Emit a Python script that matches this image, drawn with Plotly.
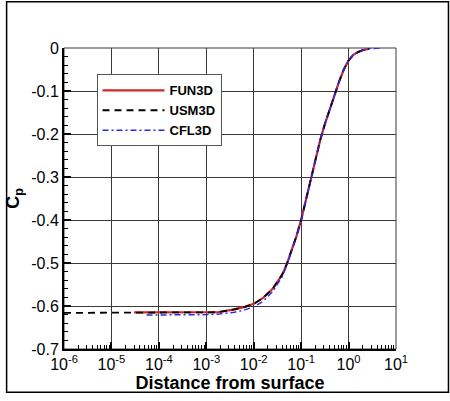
import numpy as np
import plotly.graph_objects as go

# distance from surface (log axis) and Cp
usm3d_dist = [1e-6, 1e-5, 3e-5, 1e-4, 3e-4, 1e-3, 1.75e-3, 3.9e-3, 6.5e-3, 0.01, 0.0158, 0.0251, 0.0398, 0.0501,
              0.0631, 0.0794, 0.1, 0.126, 0.158, 0.2, 0.251, 0.316, 0.398, 0.501, 0.631, 0.794, 1.0, 1.26,
              1.58, 2.0, 2.7]
usm3d_cp = [-0.616, -0.616, -0.6155, -0.615, -0.615, -0.615, -0.6145, -0.608, -0.602, -0.595, -0.581, -0.560,
            -0.527, -0.502, -0.470, -0.438, -0.400, -0.355, -0.305, -0.258, -0.215, -0.177, -0.143, -0.110,
            -0.078, -0.050, -0.029, -0.016, -0.0095, -0.005, -0.0015]

fun3d_dist = [3e-5, 1e-4, 3e-4, 1e-3, 1.75e-3, 3.9e-3, 6.5e-3, 0.01, 0.0158, 0.0251, 0.0398, 0.0501,
              0.0631, 0.0794, 0.1, 0.126, 0.158, 0.2, 0.251, 0.316, 0.398, 0.501, 0.631, 0.794, 1.0, 1.26,
              1.58, 2.0, 2.7]
fun3d_cp = [-0.6148, -0.615, -0.615, -0.615, -0.6145, -0.608, -0.602, -0.595, -0.581, -0.560,
            -0.527, -0.502, -0.470, -0.438, -0.400, -0.355, -0.305, -0.258, -0.215, -0.177, -0.143, -0.110,
            -0.078, -0.050, -0.029, -0.016, -0.0095, -0.005, -0.0015]

cfl3d_dist = [5.5e-5, 1e-4, 3e-4, 1e-3, 1.75e-3, 3.9e-3, 6.5e-3, 0.01, 0.0158, 0.0251, 0.0398, 0.0501,
              0.0631, 0.0794, 0.1, 0.126, 0.158, 0.2, 0.251, 0.316, 0.398, 0.501, 0.631, 0.794, 1.0, 1.26,
              1.58, 2.0, 2.7, 5.1]
cfl3d_cp = [-0.621, -0.621, -0.6205, -0.620, -0.619, -0.6145, -0.609, -0.602, -0.589, -0.566, -0.532, -0.505,
            -0.471, -0.439, -0.401, -0.355, -0.305, -0.258, -0.215, -0.177, -0.143, -0.110,
            -0.078, -0.050, -0.029, -0.016, -0.0095, -0.005, -0.0015, 0.0]

x_tickvals = [1e-6, 1e-5, 1e-4, 1e-3, 1e-2, 1e-1, 1e0, 1e1]
x_ticktext = ["10<sup>-6</sup>", "10<sup>-5</sup>", "10<sup>-4</sup>", "10<sup>-3</sup>",
              "10<sup>-2</sup>", "10<sup>-1</sup>", "10<sup>0</sup>", "10<sup>1</sup>"]
y_tickvals = [0, -0.1, -0.2, -0.3, -0.4, -0.5, -0.6, -0.7]
y_ticktext = ["0", "-0.1", "-0.2", "-0.3", "-0.4", "-0.5", "-0.6", "-0.7"]
light_grid = [1e-5, 1e-4, 1e-3]  # these verticals are drawn light grey

W, H = 450, 401
ML, MR, MT, MB = 59, 54, 48, 45
PW, PH = W - ML - MR, H - MT - MB
FONT = "Liberation Sans, Arial, sans-serif"

fig = go.Figure()
fig.add_trace(go.Scatter(x=fun3d_dist, y=fun3d_cp, mode="lines", name="FUN3D",
                         line=dict(color="#d02828", width=2.2)))
fig.add_trace(go.Scatter(x=usm3d_dist, y=usm3d_cp, mode="lines", name="USM3D",
                         line=dict(color="black", width=1.8, dash="7px,5px")))
fig.add_trace(go.Scatter(x=cfl3d_dist, y=cfl3d_cp, mode="lines", name="CFL3D",
                         line=dict(color="#2a2ae8", width=1.5, dash="6px,3px,2px,3px")))

minor_x = [k * 10.0 ** e for e in range(-6, 1) for k in range(2, 10)]

fig.update_xaxes(type="log", range=[-6, 1], tickvals=x_tickvals, ticktext=x_ticktext,
                 ticks="inside", ticklen=7, tickwidth=1.5, tickcolor="black",
                 minor=dict(tickvals=minor_x, ticks="inside", ticklen=4, tickwidth=1, tickcolor="black", showgrid=False),
                 showgrid=True, gridcolor="#3a3a3a", gridwidth=1,
                 showline=True, linecolor="black", linewidth=2, zeroline=False,
                 tickfont=dict(family=FONT, size=16, color="black"),
                 title=dict(text="<b>Distance from surface</b>", font=dict(family=FONT, size=18, color="black"),
                            standoff=3))
fig.update_yaxes(range=[-0.7, 0], tickvals=y_tickvals, ticktext=y_ticktext,
                 ticks="inside", ticklen=7, tickwidth=1.5, tickcolor="black",
                 minor=dict(dtick=0.02, ticks="inside", ticklen=4, tickwidth=1, tickcolor="black", showgrid=False),
                 showgrid=True, gridcolor="#3a3a3a", gridwidth=1,
                 showline=True, linecolor="black", linewidth=2, zeroline=False,
                 tickfont=dict(family=FONT, size=16, color="black"),
                 title=dict(text="<b>C<sub>p</sub></b>", font=dict(family=FONT, size=18, color="black"),
                            standoff=7))

for v in light_grid:
    fig.add_shape(type="line", xref="x", yref="paper", x0=np.log10(v), x1=np.log10(v), y0=0, y1=1,
                  line=dict(color="#b0b0b0", width=1.5), layer="between")

# frame around the plot area (top and right sides thin)
fig.add_shape(type="rect", xref="paper", yref="paper", x0=0, x1=1, y0=0, y1=1,
              line=dict(color="#3a3a3a", width=1), layer="below")
# border around the whole picture
fig.add_shape(type="rect", xref="paper", yref="paper",
              x0=(0.75 - ML) / PW, x1=(W - 0.75 - ML) / PW,
              y0=(PH + MT - H + 0.75) / PH, y1=(PH + MT - 0.75) / PH,
              line=dict(color="black", width=1.5))

fig.update_layout(width=W, height=H, margin=dict(l=ML, r=MR, t=MT, b=MB),
                  paper_bgcolor="white", plot_bgcolor="white",
                  font=dict(family=FONT, color="black"),
                  legend=dict(x=(92 - ML) / PW, y=1 - (75 - MT) / PH, xanchor="left", yanchor="top",
                              bgcolor="white", bordercolor="#555555", borderwidth=1,
                              itemwidth=62, tracegroupgap=0,
                              font=dict(family=FONT, size=13, color="black", weight="bold")))

# the page's default 8px body margin would shift the figure
fig.write_html("out.html", config={"displayModeBar": False},
               post_script="document.body.style.margin = '0px';")
